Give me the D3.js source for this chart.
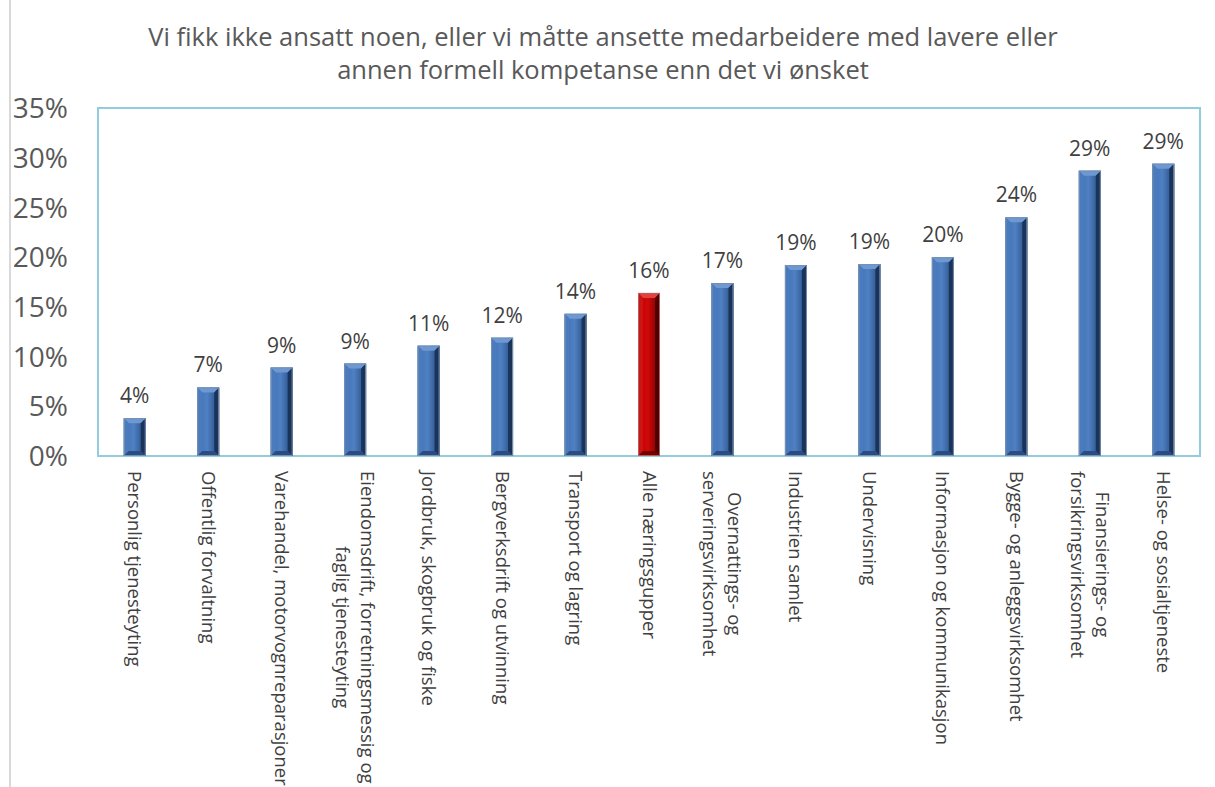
<!DOCTYPE html>
<html>
<head>
<meta charset="utf-8">
<script src="https://cdn.jsdelivr.net/npm/d3@7"></script>
<style>
  body { margin: 0; background: #fff; }
  svg { display: block; font-family: "Open Sans", sans-serif; }
</style>
</head>
<body>
<div id="chart"></div>
<script>
// Data
const categories = [
  "Personlig tjenesteyting",
  "Offentlig forvaltning",
  "Varehandel, motorvognreparasjoner",
  "Eiendomsdrift, forretningsmessig og|faglig tjenesteyting",
  "Jordbruk, skogbruk og fiske",
  "Bergverksdrift og utvinning",
  "Transport og lagring",
  "Alle næringsgupper",
  "Overnattings- og|serveringsvirksomhet",
  "Industrien samlet",
  "Undervisning",
  "Informasjon og kommunikasjon",
  "Bygge- og anleggsvirksomhet",
  "Finansierings- og|forsikringsvirksomhet",
  "Helse- og sosialtjeneste"
];
const values = [3.8, 6.9, 8.9, 9.3, 11.1, 11.9, 14.3, 16.4, 17.4, 19.2, 19.3, 20.0, 24.0, 28.7, 29.4];
const highlight = ["Alle næringsgupper"];
const yTicks = [0, 5, 10, 15, 20, 25, 30, 35];
const titleLines = [
  "Vi fikk ikke ansatt noen, eller vi måtte ansette medarbeidere med lavere eller",
  "annen formell kompetanse enn det vi ønsket"
];

const W = 1215, H = 787;
const plot = { left: 98, right: 1200, top: 108, bottom: 456 };

const svg = d3.select('#chart').append('svg')
  .attr('width', W).attr('height', H);

// gradients
const defs = svg.append('defs');
function grad(id, stops) {
  const g = defs.append('linearGradient').attr('id', id)
    .attr('x1', '0%').attr('x2', '100%').attr('y1', '0%').attr('y2', '0%');
  stops.forEach(s => g.append('stop').attr('offset', s[0]).attr('stop-color', s[1]));
}
grad('blueMid', [['0%', '#4070b4'], ['45%', '#4f80c2'], ['100%', '#25487f']]);
grad('redMid', [['0%', '#c00000'], ['45%', '#d00808'], ['100%', '#700000']]);

const palette = {
  blue: { fill: 'url(#blueMid)', top: '#6d98d2', left: '#4a7bbd', right: '#1a3359', bottom: '#2a4c82', edge: '#7890b0' },
  red: { fill: 'url(#redMid)', top: '#e44040', left: '#cc1414', right: '#4e0000', bottom: '#740000', edge: '#b06060' }
};

// chart area left border
svg.append('line')
  .attr('x1', 10).attr('x2', 10).attr('y1', 0).attr('y2', H)
  .attr('stroke', '#d9d9d9').attr('stroke-width', 2);

// title
svg.append('text')
  .attr('text-anchor', 'middle')
  .attr('fill', '#595959')
  .style('font-size', '25.5px')
  .selectAll('tspan').data(titleLines).join('tspan')
  .attr('x', 603)
  .attr('y', (d, i) => 46 + i * 33)
  .text(d => d);

const x = d3.scaleBand().domain(categories).range([plot.left, plot.right]);
const y = d3.scaleLinear().domain([0, 35]).range([plot.bottom, plot.top]);

// plot area border
svg.append('rect')
  .attr('x', plot.left).attr('y', plot.top)
  .attr('width', plot.right - plot.left).attr('height', plot.bottom - plot.top)
  .attr('fill', 'none').attr('stroke', '#93cddd').attr('stroke-width', 2);

// y axis labels
svg.append('g').selectAll('text').data(yTicks).join('text')
  .attr('x', 68)
  .attr('y', d => y(d))
  .attr('dy', '0.36em')
  .attr('text-anchor', 'end')
  .attr('fill', '#595959')
  .style('font-size', '28px')
  .text(d => d + '%');

// bars
const barW = 22, bev = 5;
svg.append('g').selectAll('g').data(categories).join('g')
  .each(function(c, i) {
    const g = d3.select(this);
    const p = highlight.includes(c) ? palette.red : palette.blue;
    const x0 = x(c) + x.bandwidth() / 2 - barW / 2;
    const y0 = y(values[i]);
    const h = plot.bottom - y0;
    const x1 = x0 + barW, y1 = plot.bottom;
    g.append('rect').attr('x', x0).attr('y', y0).attr('width', barW).attr('height', h)
      .attr('fill', p.fill);
    const poly = (pts, col) => g.append('polygon')
      .attr('points', pts.map(q => q.join(',')).join(' ')).attr('fill', col);
    poly([[x0, y0], [x1, y0], [x1 - bev, y0 + bev], [x0 + bev, y0 + bev]], p.top);
    poly([[x0, y0], [x0 + bev, y0 + bev], [x0 + bev, y1 - bev], [x0, y1]], p.left);
    poly([[x1, y0], [x1, y1], [x1 - bev, y1 - bev], [x1 - bev, y0 + bev]], p.right);
    poly([[x0, y1], [x0 + bev, y1 - bev], [x1 - bev, y1 - bev], [x1, y1]], p.bottom);
    g.append('rect').attr('x', x0 + 0.5).attr('y', y0 + 0.5)
      .attr('width', barW - 1).attr('height', h - 1)
      .attr('fill', 'none').attr('stroke', p.edge).attr('stroke-width', 1);
  });

// data labels
svg.append('g').selectAll('text').data(categories).join('text')
  .attr('x', c => x(c) + x.bandwidth() / 2)
  .attr('y', (c, i) => y(values[i]) - 15)
  .attr('text-anchor', 'middle')
  .attr('fill', '#404040')
  .style('font-size', '21px')
  .text((c, i) => Math.round(values[i]) + '%');

// category labels, rotated 90 degrees
const lineH = 25;
const labels = svg.append('g');
categories.forEach(c => {
  const lines = c.split('|');
  const cx = x(c) + x.bandwidth() / 2;
  const g = labels.append('g')
    .attr('transform', `translate(${cx},471) rotate(90)`);
  const texts = lines.map((l, j) => g.append('text')
    .attr('fill', '#404040')
    .style('font-size', '18.5px')
    .attr('dy', '0.35em')
    .attr('y', (j - (lines.length - 1) / 2) * lineH)
    .text(l));
  const maxLen = d3.max(texts, t => t.node().getComputedTextLength());
  texts.forEach(t => t.attr('x', (maxLen - t.node().getComputedTextLength()) / 2));
});
</script>
</body>
</html>
